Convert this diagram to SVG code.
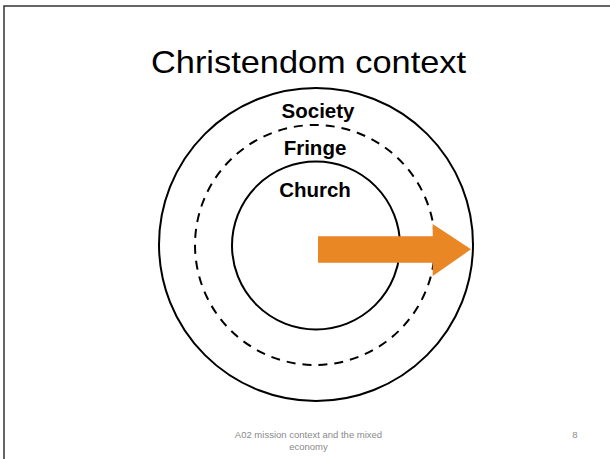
<svg xmlns="http://www.w3.org/2000/svg" width="610" height="459" viewBox="0 0 610 459">
<style>
.ring{fill:none;stroke:#000;stroke-width:2}
.dash{stroke-dasharray:9 7}
.lbl{font-family:"Liberation Sans",Arial,sans-serif;font-weight:bold;font-size:20.5px;text-anchor:middle;fill:#000}
.foot{font-family:"Liberation Sans",Arial,sans-serif;font-size:9.5px;fill:#8a8a8a;text-anchor:middle}
</style>
<rect x="0" y="0" width="610" height="459" fill="#fff"/>
<path d="M4 459 V6 H610" fill="none" stroke="#333" stroke-width="1.5"/>
<text x="308.5" y="73" font-family="'Liberation Sans',Arial,sans-serif" font-size="32" text-anchor="middle" textLength="315" lengthAdjust="spacingAndGlyphs">Christendom context</text>
<g id="society">
<ellipse class="ring" cx="316" cy="244.5" rx="157" ry="156.5"/>
<text class="lbl" x="318" y="118">Society</text>
</g>
<g id="fringe">
<ellipse class="ring dash" cx="315" cy="245" rx="120" ry="120"/>
<text class="lbl" x="315" y="155">Fringe</text>
</g>
<g id="church">
<ellipse class="ring" cx="316" cy="245.5" rx="84" ry="84"/>
<text class="lbl" x="315" y="197">Church</text>
</g>
<g id="connectors">
<path d="M318 236.3 H432.7 V224 L471 249.3 L432.7 276 V262.7 H318 Z" fill="#e88724"/>
</g>
<text class="foot" x="308.5" y="438">A02 mission context and the mixed</text>
<text class="foot" x="308.5" y="450">economy</text>
<text class="foot" x="575" y="438">8</text>
</svg>
